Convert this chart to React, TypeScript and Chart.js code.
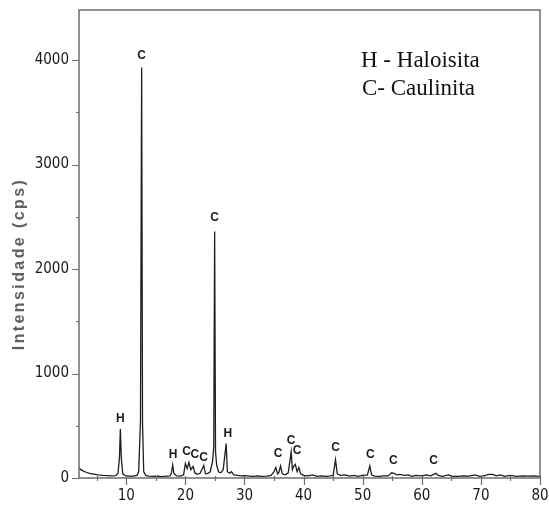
import React, { useEffect, useRef } from "react";
import { Chart, registerables } from "chart.js";

Chart.register(...registerables);

// 2θ (degrees) and intensity (cps)
const twoTheta = [
  2.0, 2.3, 2.7, 3.2, 3.8, 4.5, 5.2, 6.0, 6.8, 7.5, 8.2, 8.6, 8.85, 9.0, 9.15, 9.4, 9.8,
  10.5, 11.2, 11.8, 12.1, 12.4, 12.6, 12.75, 12.95, 13.3, 13.8, 14.5, 15.3, 16.0, 16.8,
  17.4, 17.65, 17.85, 18.05, 18.5, 19.2, 19.7, 20.0, 20.3, 20.6, 20.9, 21.3, 21.6, 22.0,
  22.5, 23.1, 23.4, 23.8, 24.2, 24.6, 24.8, 24.95, 25.1, 25.3, 25.6, 26.0, 26.4, 26.9,
  27.1, 27.5, 27.8, 28.2, 28.8, 29.4, 30.0, 30.8, 31.5, 32.2, 33.0, 33.8, 34.5, 35.0,
  35.3, 35.6, 35.8, 36.1, 36.4, 36.9, 37.4, 37.9, 38.1, 38.3, 38.6, 38.9, 39.2, 39.5,
  40.0, 40.8, 41.5, 42.3, 43.0, 43.8, 44.5, 45.0, 45.4, 45.7, 46.2, 47.0, 47.8, 48.5,
  49.2, 50.0, 50.8, 51.2, 51.5, 52.0, 52.8, 53.5, 54.3, 54.9, 55.3, 55.7, 56.3, 57.0,
  57.7, 58.3, 59.0, 60.0, 60.8, 61.5, 62.0, 62.4, 62.8, 63.5, 64.5, 65.2, 66.0, 67.0,
  68.0, 69.0, 69.8, 70.5, 71.3, 72.0, 72.6, 73.3, 74.0, 75.0, 76.0, 77.0, 78.0, 79.0, 80.0,
];
const intensity = [
  95, 80, 68, 55, 45, 38, 30, 25, 22, 20, 22, 45, 200, 470, 200, 40, 22,
  18, 18, 25, 60, 540, 3930, 520, 60, 25, 18, 15, 18, 14, 18,
  20, 50, 125, 45, 20, 18, 30, 140, 90, 150, 80, 110, 50, 35,
  45, 120, 40, 45, 60, 160, 300, 2360, 250, 120, 60, 50, 80, 330,
  60, 45, 60, 30, 25, 20, 22, 18, 15, 20, 15, 18, 25, 60,
  100, 40, 50, 115, 40, 30, 50, 250, 80, 110, 130, 60, 100, 40,
  25, 20, 30, 15, 20, 15, 20, 25, 175, 40, 25, 30, 18, 25,
  15, 25, 30, 115, 30, 18, 15, 20, 20, 50, 45, 30, 35, 25,
  30, 15, 25, 20, 30, 20, 35, 45, 25, 15, 30, 15, 15, 20,
  18, 30, 15, 20, 35, 35, 20, 30, 15, 25, 15, 20, 18, 20, 15,
];

// peak identification labels (phase letter, 2θ, intensity position)
const peakLabelText = ["H", "C", "H", "C", "C", "C", "C", "H", "C", "C", "C", "C", "C", "C", "C"];
const peakLabelX = [9.0, 12.6, 17.9, 20.2, 21.6, 23.1, 24.95, 27.2, 35.7, 37.9, 38.9, 45.4, 51.3, 55.2, 62.0];
const peakLabelY = [565, 4040, 225, 250, 220, 195, 2490, 420, 235, 355, 265, 290, 225, 165, 165];

const yMajorTicks = [0, 1000, 2000, 3000, 4000];
const yMinorTicks = [500, 1500, 2500, 3500, 4500];
const xMajorTicks = [10, 20, 30, 40, 50, 60, 70, 80];
const xMinorTicks = [5, 15, 25, 35, 45, 55, 65, 75];

const legendLines = ["H - Haloisita", "C- Caulinita"];
const yAxisTitle = "Intensidade (cps)";

const TICK_FONT = "15px 'Liberation Sans Narrow', 'DejaVu Sans Condensed', 'Liberation Sans', sans-serif";

const framePlugin = {
  id: "framePlugin",
  afterDraw(chart: any) {
    const { ctx, chartArea } = chart;
    const xs = chart.scales.x;
    const ys = chart.scales.y;
    ctx.save();
    // box
    ctx.strokeStyle = "#6e6e6e";
    ctx.lineWidth = 1.5;
    ctx.strokeRect(chartArea.left, chartArea.top, chartArea.right - chartArea.left, chartArea.bottom - chartArea.top);
    // ticks
    ctx.lineWidth = 1.2;
    ctx.beginPath();
    yMajorTicks.forEach((v) => {
      const p = Math.round(ys.getPixelForValue(v)) + 0.5;
      ctx.moveTo(chartArea.left - 7, p);
      ctx.lineTo(chartArea.left, p);
    });
    yMinorTicks.forEach((v) => {
      const p = Math.round(ys.getPixelForValue(v)) + 0.5;
      if (p < chartArea.top) return;
      ctx.moveTo(chartArea.left - 3, p);
      ctx.lineTo(chartArea.left, p);
    });
    xMajorTicks.forEach((v) => {
      const p = Math.round(xs.getPixelForValue(v)) + 0.5;
      ctx.moveTo(p, chartArea.bottom - 2);
      ctx.lineTo(p, chartArea.bottom + 7);
    });
    xMinorTicks.forEach((v) => {
      const p = Math.round(xs.getPixelForValue(v)) + 0.5;
      ctx.moveTo(p, chartArea.bottom - 2);
      ctx.lineTo(p, chartArea.bottom + 3);
    });
    ctx.stroke();
    // tick labels
    ctx.fillStyle = "#1a1a1a";
    ctx.font = TICK_FONT;
    ctx.textAlign = "right";
    ctx.textBaseline = "middle";
    yMajorTicks.forEach((v) => {
      ctx.fillText(String(v), chartArea.left - 10, ys.getPixelForValue(v));
    });
    ctx.textAlign = "center";
    ctx.textBaseline = "top";
    xMajorTicks.forEach((v) => {
      ctx.fillText(String(v), xs.getPixelForValue(v), chartArea.bottom + 11);
    });
    // y-axis title
    ctx.save();
    ctx.translate(20, 264);
    ctx.rotate(-Math.PI / 2);
    ctx.font = "bold 16px 'Liberation Sans', Arial, sans-serif";
    (ctx as any).letterSpacing = "2.4px";
    ctx.fillStyle = "#606060";
    ctx.textAlign = "center";
    ctx.textBaseline = "middle";
    ctx.fillText(yAxisTitle, 0, 0);
    ctx.restore();
    // peak labels
    ctx.font = "bold 12px 'Liberation Sans', Arial, sans-serif";
    ctx.fillStyle = "#1a1a1a";
    ctx.textAlign = "center";
    ctx.textBaseline = "middle";
    peakLabelText.forEach((t, i) => {
      ctx.fillText(t, xs.getPixelForValue(peakLabelX[i]), ys.getPixelForValue(peakLabelY[i]));
    });
    // legend text
    ctx.font = "23px 'Liberation Serif', 'Times New Roman', serif";
    ctx.fillStyle = "#111";
    ctx.textAlign = "left";
    ctx.textBaseline = "alphabetic";
    legendLines.forEach((t, i) => {
      ctx.fillText(t, 361 + (i === 1 ? 1 : 0), 67 + i * 28);
    });
    ctx.restore();
  },
};

export default function App() {
  const ref = useRef<HTMLCanvasElement | null>(null);
  useEffect(() => {
    document.body.style.margin = "0";
    const points = twoTheta.map((x, i) => ({ x, y: intensity[i] }));
    const chart = new Chart(ref.current as HTMLCanvasElement, {
      type: "line",
      data: {
        datasets: [
          {
            data: points,
            borderColor: "#1e1e1e",
            borderWidth: 1.3,
            pointRadius: 0,
            tension: 0,
            fill: false,
          },
        ],
      },
      options: {
        animation: false,
        responsive: false,
        maintainAspectRatio: false,
        layout: { padding: { top: 10, right: 9, left: 0, bottom: 0 } },
        plugins: { legend: { display: false }, tooltip: { enabled: false } },
        scales: {
          x: {
            type: "linear",
            min: 2,
            max: 80,
            grid: { display: false, drawTicks: false },
            border: { display: false },
            ticks: { display: false },
            afterFit: (s: any) => {
              s.height = 30;
            },
          },
          y: {
            type: "linear",
            min: 0,
            max: 4480,
            grid: { display: false, drawTicks: false },
            border: { display: false },
            ticks: { display: false },
            afterFit: (s: any) => {
              s.width = 79;
            },
          },
        },
      },
      plugins: [framePlugin],
    });
    return () => chart.destroy();
  }, []);
  return (
    <div style={{ width: 549, height: 508 }}>
      <canvas ref={ref} width={549} height={508} style={{ display: "block" }} />
    </div>
  );
}
